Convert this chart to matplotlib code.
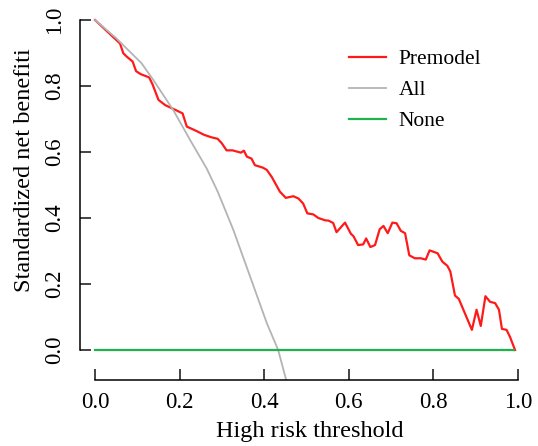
import matplotlib
matplotlib.use('Agg')
import matplotlib.pyplot as plt

# threshold / standardized net benefit
pre_x = [0.000, 0.059, 0.067, 0.075, 0.089, 0.097, 0.108, 0.128, 0.136, 0.150,
         0.166, 0.191, 0.207, 0.217, 0.236, 0.258, 0.274, 0.290, 0.300, 0.311,
         0.325, 0.345, 0.352, 0.359, 0.370, 0.378, 0.396, 0.406, 0.418, 0.437,
         0.451, 0.469, 0.481, 0.492, 0.502, 0.516, 0.528, 0.544, 0.552, 0.563,
         0.571, 0.591, 0.605, 0.611, 0.622, 0.634, 0.641, 0.651, 0.662, 0.673,
         0.682, 0.692, 0.703, 0.713, 0.723, 0.733, 0.743, 0.756, 0.770, 0.782,
         0.791, 0.810, 0.821, 0.833, 0.840, 0.851, 0.860, 0.891, 0.902, 0.912,
         0.923, 0.934, 0.946, 0.955, 0.962, 0.973, 0.981, 0.993]
pre_y = [1.000, 0.929, 0.899, 0.889, 0.874, 0.845, 0.836, 0.826, 0.805, 0.758,
         0.742, 0.727, 0.717, 0.677, 0.666, 0.652, 0.645, 0.640, 0.626, 0.605,
         0.605, 0.598, 0.604, 0.586, 0.580, 0.560, 0.553, 0.546, 0.524, 0.480,
         0.461, 0.466, 0.459, 0.444, 0.414, 0.411, 0.400, 0.393, 0.392, 0.385,
         0.357, 0.386, 0.352, 0.345, 0.318, 0.320, 0.338, 0.312, 0.318, 0.366,
         0.376, 0.354, 0.386, 0.384, 0.361, 0.354, 0.287, 0.278, 0.278, 0.274,
         0.302, 0.293, 0.268, 0.255, 0.238, 0.165, 0.155, 0.061, 0.122, 0.073,
         0.163, 0.146, 0.142, 0.122, 0.064, 0.061, 0.040, 0.000]

all_x = [0.0, 0.05, 0.11, 0.138, 0.185, 0.225, 0.264, 0.29, 0.327, 0.366, 0.406, 0.433, 0.452]
all_y = [1.0, 0.945, 0.869, 0.818, 0.727, 0.636, 0.55, 0.48, 0.364, 0.225, 0.082, 0.0, -0.091]

none_x = [0.0, 0.99]
none_y = [0.0, 0.0]

ticks = [0.0, 0.2, 0.4, 0.6, 0.8, 1.0]
tick_labels = ['0.0', '0.2', '0.4', '0.6', '0.8', '1.0']

plt.rcParams['font.family'] = 'Liberation Serif'

fig = plt.figure(figsize=(5.38, 4.46), dpi=100)
ax = fig.add_axes([80/538, 66/446, 446.5/538, 366.6/446])

ax.plot(pre_x, pre_y, color='#FF1A1A', lw=1.6, label='Premodel', clip_on=False)
ax.plot(all_x, all_y, color='#B4B4B4', lw=1.3, label='All')
ax.plot(none_x, none_y, color='#22B14C', lw=1.6, label='None')

ax.set_xlim(-0.0355, 1.0201)
ax.set_ylim(-0.0909, 1.02)

for s in ['top', 'right']:
    ax.spines[s].set_visible(False)
ax.spines['left'].set_bounds(0, 1)
ax.spines['bottom'].set_bounds(0, 1)
ax.spines['left'].set_linewidth(1.1)
ax.spines['bottom'].set_linewidth(1.1)

ax.set_xticks(ticks)
ax.set_xticklabels(tick_labels)
ax.set_yticks(ticks)
ax.set_yticklabels(tick_labels, rotation=90, va='center')
ax.tick_params(direction='in', length=8, width=1.1, labelsize=16.5, color='#111111')
ax.tick_params(axis='x', pad=9)
ax.tick_params(axis='y', pad=11)

fig.text(310/538, 1 - 431/446, 'High risk threshold', ha='center', va='center', fontsize=17.5)
fig.text(25/538, 1 - 170/446, 'Standardized net benefiti', ha='center', va='center',
         rotation=90, fontsize=17.5)

ax.legend(loc='upper left', bbox_to_anchor=(330/538, 1 - 30/446), bbox_transform=fig.transFigure,
          frameon=False, fontsize=15.5, handlelength=1.7, handletextpad=0.6, labelspacing=0.5)

fig.savefig('out.png', dpi=100)
